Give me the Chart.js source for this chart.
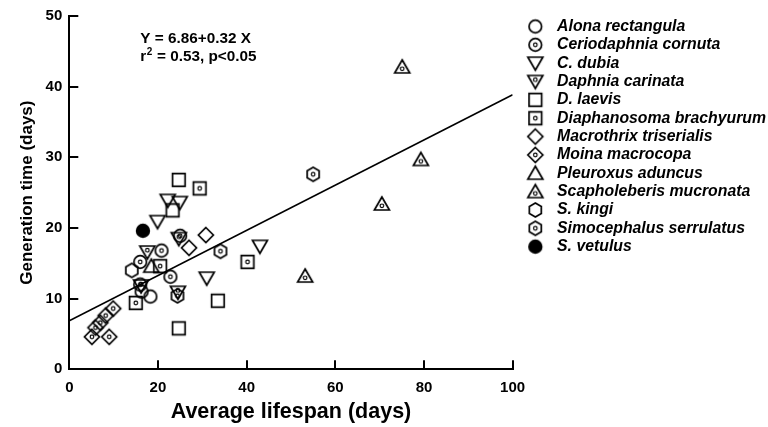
<!DOCTYPE html>
<html>
<head>
<meta charset="utf-8">
<script src="https://cdn.jsdelivr.net/npm/chart.js@4.4.1/dist/chart.umd.min.js"></script>
<style>
  html, body { margin: 0; padding: 0; background: #fff; }
  #wrap { width: 768px; height: 427px; }
</style>
</head>
<body>
<div id="wrap"><canvas id="c"></canvas></div>
<script>
// Cladoceran species: average lifespan vs generation time (days)
const species = [
  'Alona rectangula', 'Ceriodaphnia cornuta', 'C. dubia', 'Daphnia carinata',
  'D. laevis', 'Diaphanosoma brachyurum', 'Macrothrix triserialis', 'Moina macrocopa',
  'Pleuroxus aduncus', 'Scapholeberis mucronata', 'S. kingi', 'Simocephalus serrulatus',
  'S. vetulus'
];

// x values: average lifespan (days), one list per species
const lifespanDays = [
  [18.3, 16.3],
  [25.0, 20.8, 16.0, 22.8, 16.0],
  [22.2, 24.9, 19.9, 43.0, 31.0],
  [17.6, 24.7, 24.5, 16.2],
  [24.7, 23.3, 33.5, 24.7],
  [29.4, 20.5, 15.0, 40.2],
  [30.8, 27.0],
  [5.1, 9.0, 9.9, 8.2, 7.0, 5.9],
  [18.5],
  [75.1, 79.3, 70.5, 53.2],
  [14.1],
  [55.0, 34.1, 24.4],
  [16.6]
];

// y values: generation time (days), one list per species
const generationDays = [
  [10.3, 11.0],
  [18.9, 16.8, 15.2, 13.1, 12.0],
  [23.9, 23.6, 20.9, 17.4, 12.9],
  [16.6, 18.5, 10.9, 11.8],
  [26.8, 22.5, 9.7, 5.8],
  [25.6, 14.6, 9.4, 15.2],
  [19.0, 17.2],
  [4.6, 4.6, 8.6, 7.6, 6.6, 5.9],
  [14.6],
  [42.8, 29.7, 23.4, 13.2],
  [14.0],
  [27.6, 16.7, 10.4],
  [19.6]
];

// Linear regression  Y = a + b X
const fitIntercept = 6.86;
const fitSlope = 0.32;
const fitR2 = 0.53;

const xMin = 0, xMax = 100, xStep = 20;
const yMin = 0, yMax = 50, yStep = 10;

// Symbol for each species: [shape, centre dot]
const markerKinds = [
  ['circle', false], ['circle', true], ['down', false], ['down', true],
  ['square', false], ['square', true], ['diamond', false], ['diamond', true],
  ['up', false], ['up', true], ['hex', false], ['hex', true], ['disc', false]
];

function makeMarker(kind, dot, w, dx) {
  w = w || 22; dx = dx || 0;
  const h = 22;
  const cv = document.createElement('canvas');
  cv.width = w; cv.height = h;
  const g = cv.getContext('2d');
  g.translate(w / 2 + dx, h / 2);
  g.strokeStyle = '#000';
  g.fillStyle = '#000';
  g.lineWidth = 1.7;
  g.beginPath();
  let dotY = 0;
  if (kind === 'circle') {
    g.arc(0, 0, 6.3, 0, Math.PI * 2);
  } else if (kind === 'disc') {
    g.arc(0, 0, 7.2, 0, Math.PI * 2);
  } else if (kind === 'down') {
    g.moveTo(-7.5, -6); g.lineTo(7.5, -6); g.lineTo(0, 7); g.closePath();
    dotY = -1.8;
  } else if (kind === 'up') {
    g.moveTo(0, -7); g.lineTo(7.5, 6); g.lineTo(-7.5, 6); g.closePath();
    dotY = 1.8;
  } else if (kind === 'square') {
    g.rect(-6.3, -6.3, 12.6, 12.6);
  } else if (kind === 'diamond') {
    g.moveTo(0, -7.5); g.lineTo(7.5, 0); g.lineTo(0, 7.5); g.lineTo(-7.5, 0); g.closePath();
  } else if (kind === 'hex') {
    for (let k = 0; k < 6; k++) {
      const a = -Math.PI / 2 + k * Math.PI / 3;
      const px = 6.9 * Math.cos(a), py = 6.9 * Math.sin(a);
      if (k) g.lineTo(px, py); else g.moveTo(px, py);
    }
    g.closePath();
  }
  if (kind === 'disc') g.fill(); else g.stroke();
  if (dot) {
    g.beginPath();
    g.lineWidth = 1.2;
    g.arc(0, dotY, 1.8, 0, Math.PI * 2);
    g.stroke();
  }
  return cv;
}

const plotMarkers = markerKinds.map(([k, d]) => makeMarker(k, d));
const legendMarkers = markerKinds.map(([k, d]) => makeMarker(k, d, 34, 3.2));

const speciesSets = species.map((name, i) => ({
  label: name,
  data: lifespanDays[i].map((x, j) => ({ x: x, y: generationDays[i][j] })),
  pointStyle: plotMarkers[i],
  pointRadius: 7,
  pointHoverRadius: 7,
  borderColor: '#000',
  backgroundColor: 'rgba(0,0,0,0)'
}));

const fitLine = {
  type: 'line',
  label: 'fit',
  data: [xMin, xMax].map(x => ({ x: x, y: fitIntercept + fitSlope * x })),
  borderColor: '#000',
  borderWidth: 1.6,
  pointRadius: 0,
  fill: false,
  showLine: true
};

// Regression equation in the upper left of the plot
const equationText = {
  id: 'equationText',
  afterDatasetsDraw(chart) {
    const { ctx, chartArea } = chart;
    const x0 = chartArea.left + 71;
    ctx.save();
    ctx.fillStyle = '#000';
    ctx.textBaseline = 'alphabetic';
    ctx.textAlign = 'left';
    ctx.font = 'bold 15.3px "Liberation Sans", Arial, sans-serif';
    ctx.fillText('Y = ' + fitIntercept.toFixed(2) + '+' + fitSlope.toFixed(2) + ' X', x0, chartArea.top + 26.5);
    const y2 = chartArea.top + 45;
    ctx.fillText('r', x0, y2);
    const rw = ctx.measureText('r').width;
    ctx.font = 'bold 10px "Liberation Sans", Arial, sans-serif';
    ctx.fillText('2', x0 + rw + 0.5, y2 - 6.5);
    const sw = ctx.measureText('2').width;
    ctx.font = 'bold 15.3px "Liberation Sans", Arial, sans-serif';
    ctx.fillText(' = ' + fitR2.toFixed(2) + ', p<0.05', x0 + rw + sw + 1, y2);
    ctx.restore();
  }
};

const FONT = '"Liberation Sans", Arial, Helvetica, sans-serif';

new Chart(document.getElementById('c'), {
  type: 'scatter',
  data: { datasets: [...speciesSets, fitLine] },
  options: {
    responsive: true,
    maintainAspectRatio: false,
    animation: false,
    layout: { padding: { top: 16, right: -8, left: 0, bottom: 0 } },
    plugins: {
      tooltip: { enabled: false },
      legend: {
        position: 'right',
        align: 'start',
        maxWidth: 280,
        labels: {
          usePointStyle: true,
          pointStyleWidth: 34,
          padding: 2.55,
          color: '#000',
          font: { family: FONT, size: 15.8, weight: 'bold', style: 'italic' },
          filter: item => item.datasetIndex < species.length,
          generateLabels(chart) {
            const items = Chart.defaults.plugins.legend.labels.generateLabels(chart);
            items.forEach(it => {
              if (it.datasetIndex < species.length) it.pointStyle = legendMarkers[it.datasetIndex];
            });
            return items;
          }
        }
      }
    },
    scales: {
      x: {
        type: 'linear',
        min: xMin, max: xMax,
        afterFit(axis) { axis.height = 57.7; },
        border: { display: true, color: '#000', width: 2 },
        grid: { drawOnChartArea: false, drawTicks: true, tickLength: -9, color: '#000', lineWidth: 2 },
        ticks: { stepSize: xStep, padding: 18.8, color: '#000', font: { family: FONT, size: 15, weight: 'bold' } },
        title: {
          display: true, text: 'Average lifespan (days)', color: '#000',
          font: { family: FONT, size: 21.5, weight: 'bold', lineHeight: 1.2 },
          padding: { top: 0, bottom: 2.5 }
        }
      },
      y: {
        type: 'linear',
        min: yMin, max: yMax,
        afterFit(axis) { axis.width = 69.3; axis.paddingTop = 0; axis.paddingBottom = 0; },
        border: { display: true, color: '#000', width: 2 },
        grid: { drawOnChartArea: false, drawTicks: true, tickLength: -9, color: '#000', lineWidth: 2 },
        ticks: { stepSize: yStep, padding: 16, color: '#000', font: { family: FONT, size: 15, weight: 'bold' } },
        title: {
          display: true, text: 'Generation time (days)', color: '#000',
          font: { family: FONT, size: 17, weight: 'bold', lineHeight: 1.2 },
          padding: { top: 17, bottom: 0 }
        }
      }
    }
  },
  plugins: [equationText]
});
</script>
</body>
</html>
